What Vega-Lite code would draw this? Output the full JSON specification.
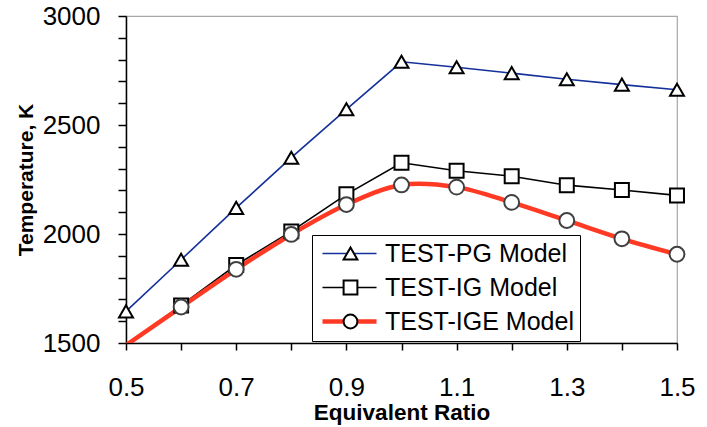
{
  "$schema": "https://vega.github.io/schema/vega-lite/v6.json",
  "width": 551,
  "height": 327,
  "autosize": "none",
  "padding": {"left": 126, "top": 16, "right": 30, "bottom": 84},
  "background": "white",
  "config": {
    "view": {"stroke": "#a6a6a6", "strokeWidth": 1.2},
    "font": "Liberation Sans",
    "axis": {
      "domainColor": "black", "domainWidth": 1.5, "tickColor": "black", "tickWidth": 1.5,
      "grid": false, "labelColor": "black", "titleColor": "black",
      "labelFont": "Liberation Sans", "titleFont": "Liberation Sans",
      "labelFontSize": 26, "titleFontWeight": "bold"
    }
  },
  "data": {"values": [
    {"phi": 0.5, "T": 1645, "series": "TEST-PG Model"},
    {"phi": 0.6, "T": 1882, "series": "TEST-PG Model"},
    {"phi": 0.7, "T": 2120, "series": "TEST-PG Model"},
    {"phi": 0.8, "T": 2350, "series": "TEST-PG Model"},
    {"phi": 0.9, "T": 2572, "series": "TEST-PG Model"},
    {"phi": 1.0, "T": 2790, "series": "TEST-PG Model"},
    {"phi": 1.1, "T": 2765, "series": "TEST-PG Model"},
    {"phi": 1.2, "T": 2738, "series": "TEST-PG Model"},
    {"phi": 1.3, "T": 2710, "series": "TEST-PG Model"},
    {"phi": 1.4, "T": 2685, "series": "TEST-PG Model"},
    {"phi": 1.5, "T": 2662, "series": "TEST-PG Model"},
    {"phi": 0.5, "T": 1490, "series": "TEST-IG Model"},
    {"phi": 0.6, "T": 1672, "series": "TEST-IG Model"},
    {"phi": 0.7, "T": 1858, "series": "TEST-IG Model"},
    {"phi": 0.8, "T": 2012, "series": "TEST-IG Model"},
    {"phi": 0.9, "T": 2182, "series": "TEST-IG Model"},
    {"phi": 1.0, "T": 2327, "series": "TEST-IG Model"},
    {"phi": 1.1, "T": 2290, "series": "TEST-IG Model"},
    {"phi": 1.2, "T": 2265, "series": "TEST-IG Model"},
    {"phi": 1.3, "T": 2224, "series": "TEST-IG Model"},
    {"phi": 1.4, "T": 2202, "series": "TEST-IG Model"},
    {"phi": 1.5, "T": 2177, "series": "TEST-IG Model"},
    {"phi": 0.5, "T": 1490, "series": "TEST-IGE Model"},
    {"phi": 0.6, "T": 1665, "series": "TEST-IGE Model"},
    {"phi": 0.7, "T": 1838, "series": "TEST-IGE Model"},
    {"phi": 0.8, "T": 1998, "series": "TEST-IGE Model"},
    {"phi": 0.9, "T": 2135, "series": "TEST-IGE Model"},
    {"phi": 1.0, "T": 2225, "series": "TEST-IGE Model"},
    {"phi": 1.1, "T": 2215, "series": "TEST-IGE Model"},
    {"phi": 1.2, "T": 2145, "series": "TEST-IGE Model"},
    {"phi": 1.3, "T": 2062, "series": "TEST-IGE Model"},
    {"phi": 1.4, "T": 1978, "series": "TEST-IGE Model"},
    {"phi": 1.5, "T": 1907, "series": "TEST-IGE Model"}
  ]},
  "encoding": {
    "x": {
      "field": "phi", "type": "quantitative",
      "scale": {"domain": [0.5, 1.5], "nice": false, "zero": false},
      "axis": {
        "title": "Equivalent Ratio", "titleFontSize": 22.5,
        "values": [0.5, 0.6, 0.7, 0.8, 0.9, 1.0, 1.1, 1.2, 1.3, 1.4, 1.5],
        "labelExpr": "round(datum.value * 10) % 2 == 1 ? datum.label : ''",
        "format": ".1f",
        "tickSize": 7, "labelPadding": 24, "titlePadding": 1,
        "labelFlush": false, "labelOverlap": false
      }
    },
    "y": {
      "field": "T", "type": "quantitative",
      "scale": {"domain": [1500, 3000], "nice": false, "zero": false},
      "axis": {
        "title": "Temperature, K", "titleFontSize": 21,
        "values": [1500, 1600, 1700, 1800, 1900, 2000, 2100, 2200, 2300, 2400, 2500, 2600, 2700, 2800, 2900, 3000],
        "labelExpr": "datum.value % 500 == 0 ? datum.label : ''",
        "format": "d",
        "tickSize": 8, "labelPadding": 18, "titlePadding": 6,
        "labelFlush": false, "labelOverlap": false
      }
    }
  },
  "layer": [
    {
      "transform": [{"filter": "datum.series != 'TEST-IGE Model'"}],
      "mark": {"type": "line", "clip": true, "strokeWidth": 1.6},
      "encoding": {
        "color": {
          "field": "series", "type": "nominal",
          "scale": {"domain": ["TEST-PG Model", "TEST-IG Model", "TEST-IGE Model"], "range": ["#14309a", "black", "#ff3a24"]},
          "legend": {
            "title": null, "orient": "none", "legendX": 186, "legendY": 219, "zindex": 1,
            "padding": 6, "rowPadding": 8, "labelFontSize": 25, "labelFont": "Liberation Sans",
            "labelColor": "black", "labelLimit": 400, "labelExpr": "datum.label + '  '",
            "symbolType": "M-3.86,0H3.86", "symbolSize": 196, "symbolOffset": 19, "labelOffset": 23,
            "fillColor": "white", "strokeColor": "black",
            "encode": {
              "symbols": {"update": {
                "stroke": {"scale": "color", "field": "value"},
                "strokeWidth": {"signal": "datum.value == 'TEST-IGE Model' ? 4.5 : 1.6"},
                "opacity": {"value": 1}
              }}
            }
          }
        }
      }
    },
    {
      "transform": [{"filter": "datum.series == 'TEST-IGE Model'"}],
      "mark": {"type": "line", "clip": true, "interpolate": "cardinal", "strokeWidth": 4.5},
      "encoding": {
        "color": {"field": "series", "type": "nominal"}
      }
    },
    {
      "transform": [{"filter": "datum.T >= 1500"}],
      "mark": {"type": "point", "filled": false, "fill": "white", "fillOpacity": 1, "opacity": 1, "strokeWidth": 2},
      "encoding": {
        "shape": {
          "field": "series", "type": "nominal",
          "sort": ["TEST-PG Model", "TEST-IG Model", "TEST-IGE Model"],
          "scale": {"range": ["triangle-up", "square", "circle"]},
          "legend": {
            "title": null, "orient": "none", "legendX": 206, "legendY": 219, "zindex": 5,
            "padding": 6, "rowPadding": 8, "labelFontSize": 25, "labelExpr": "''",
            "symbolSize": 190, "symbolStrokeWidth": 2, "symbolFillColor": "white",
            "fillColor": null, "strokeColor": null,
            "encode": {
              "symbols": {"update": {
                "stroke": {"signal": "datum.value == 'TEST-IGE Model' ? '#404040' : 'black'"},
                "fill": {"value": "white"},
                "strokeWidth": {"value": 2},
                "opacity": {"value": 1}
              }}
            }
          }
        },
        "stroke": {
          "condition": {"test": "datum.series == 'TEST-IGE Model'", "value": "#404040"},
          "value": "black"
        },
        "size": {
          "condition": {"test": "datum.series == 'TEST-IGE Model'", "value": 220},
          "value": 195
        }
      }
    }
  ]
}
